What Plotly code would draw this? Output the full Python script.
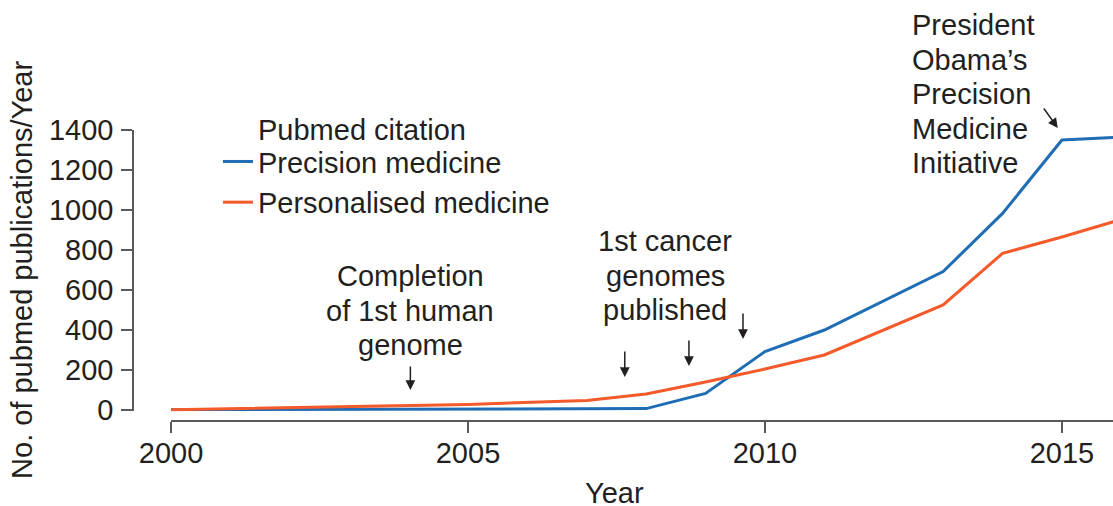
import plotly.graph_objects as go

# values
precision_years = [2000, 2005, 2008, 2009, 2010, 2011, 2013, 2014, 2015, 2016]
precision_counts = [1, 4, 7, 83, 292, 400, 692, 983, 1350, 1365]

personal_years = [2000, 2005, 2007, 2008, 2009, 2010, 2011, 2013, 2014, 2015, 2016]
personal_counts = [1, 28, 48, 80, 140, 205, 275, 525, 783, 865, 953]

x_ticks = [2000, 2005, 2010, 2015]
y_ticks = [0, 200, 400, 600, 800, 1000, 1200, 1400]

cancer_arrow_years = [2007.64, 2008.72, 2009.63]
cancer_arrow_heads = [0.1512, 0.189, 0.2818]

TXT = '#231f20'
AXIS = '#58595b'
FONT = 'Liberation Sans, Arial, sans-serif'
FS = 29
LINE_STEP = 0.1186  # one text line, in paper units

fig = go.Figure()
fig.add_trace(go.Scatter(
    x=precision_years, y=precision_counts, mode='lines', name='Precision medicine',
    line={'color': '#1f6db5', 'width': 3}
))
fig.add_trace(go.Scatter(
    x=personal_years, y=personal_counts, mode='lines', name='Personalised medicine',
    line={'color': '#f45a2a', 'width': 3}
))

fig.update_layout(
    width=1113, height=506,
    margin={'t': 130, 'r': 0, 'b': 85, 'l': 133},
    paper_bgcolor='white', plot_bgcolor='white',
    font={'family': FONT, 'size': FS, 'color': TXT},
    showlegend=True,
    legend={'x': 0.0867, 'y': 0.979, 'xanchor': 'left', 'yanchor': 'top',
            'bgcolor': 'rgba(0,0,0,0)', 'font': {'size': FS, 'color': TXT},
            'itemwidth': 30, 'tracegroupgap': 0},
    xaxis={'range': [2000, 2015.86], 'domain': [0.0388, 1], 'anchor': 'free', 'position': 0,
           'tickvals': x_ticks, 'ticks': 'outside', 'ticklen': 11, 'tickwidth': 1.5,
           'tickcolor': AXIS, 'showline': True, 'linecolor': AXIS, 'linewidth': 1.5,
           'showgrid': False, 'zeroline': False, 'ticklabelstandoff': -5},
    yaxis={'range': [-6, 1400], 'domain': [0.0337, 1], 'anchor': 'free', 'position': 0,
           'tickvals': y_ticks, 'ticks': 'outside', 'ticklen': 11, 'tickwidth': 1.5,
           'tickcolor': AXIS, 'showline': True, 'linecolor': AXIS, 'linewidth': 1.5,
           'showgrid': False, 'zeroline': False, 'ticklabelstandoff': 2},
)

anns = [
    dict(text='No. of pubmed publications/Year', xref='paper', yref='paper',
         x=-0.1133, y=0.519, textangle=-90),
    dict(text='Year', xref='paper', yref='paper', x=0.4918, y=-0.2475),
    dict(text='Pubmed citation', xref='paper', yref='paper', x=0.126, y=1.0, xanchor='left'),
]


def text_block(lines, x, y_top, xanchor='center', xref='x'):
    for i, line in enumerate(lines):
        anns.append(dict(text=line, xref=xref, yref='paper', x=x,
                         y=y_top - i * LINE_STEP, xanchor=xanchor))


text_block(['Completion', 'of 1st human', 'genome'], 2004.03, 0.4983)
text_block(['1st cancer', 'genomes', 'published'], 2008.32, 0.6186)
text_block(['President', 'Obama\u2019s', 'Precision', 'Medicine', 'Initiative'],
           2012.44, 1.3608, xanchor='left')

arrow_style = dict(text='', xref='x', yref='paper', showarrow=True, arrowhead=2,
                   arrowsize=1.3, arrowwidth=1.5, arrowcolor=TXT)
anns.append(dict(arrow_style, x=2004.03, y=0.1065, ax=0, ay=-25))
anns.append(dict(arrow_style, x=2014.93, y=1.0069, ax=-15, ay=-21))
for yr, hy in zip(cancer_arrow_years, cancer_arrow_heads):
    anns.append(dict(arrow_style, x=yr, y=hy, ax=0, ay=-27))

for a in anns:
    a.setdefault('font', {'size': FS, 'color': TXT, 'family': FONT})
    a.setdefault('showarrow', False)
    a.setdefault('xanchor', 'center')
    a.setdefault('yanchor', 'middle')
fig.update_layout(annotations=anns)

# page margin off so the 1113x506 figure fills the window exactly
fig.write_html("out.html", config={'displayModeBar': False},
               post_script="document.body.style.margin='0';document.body.style.overflow='hidden';")
